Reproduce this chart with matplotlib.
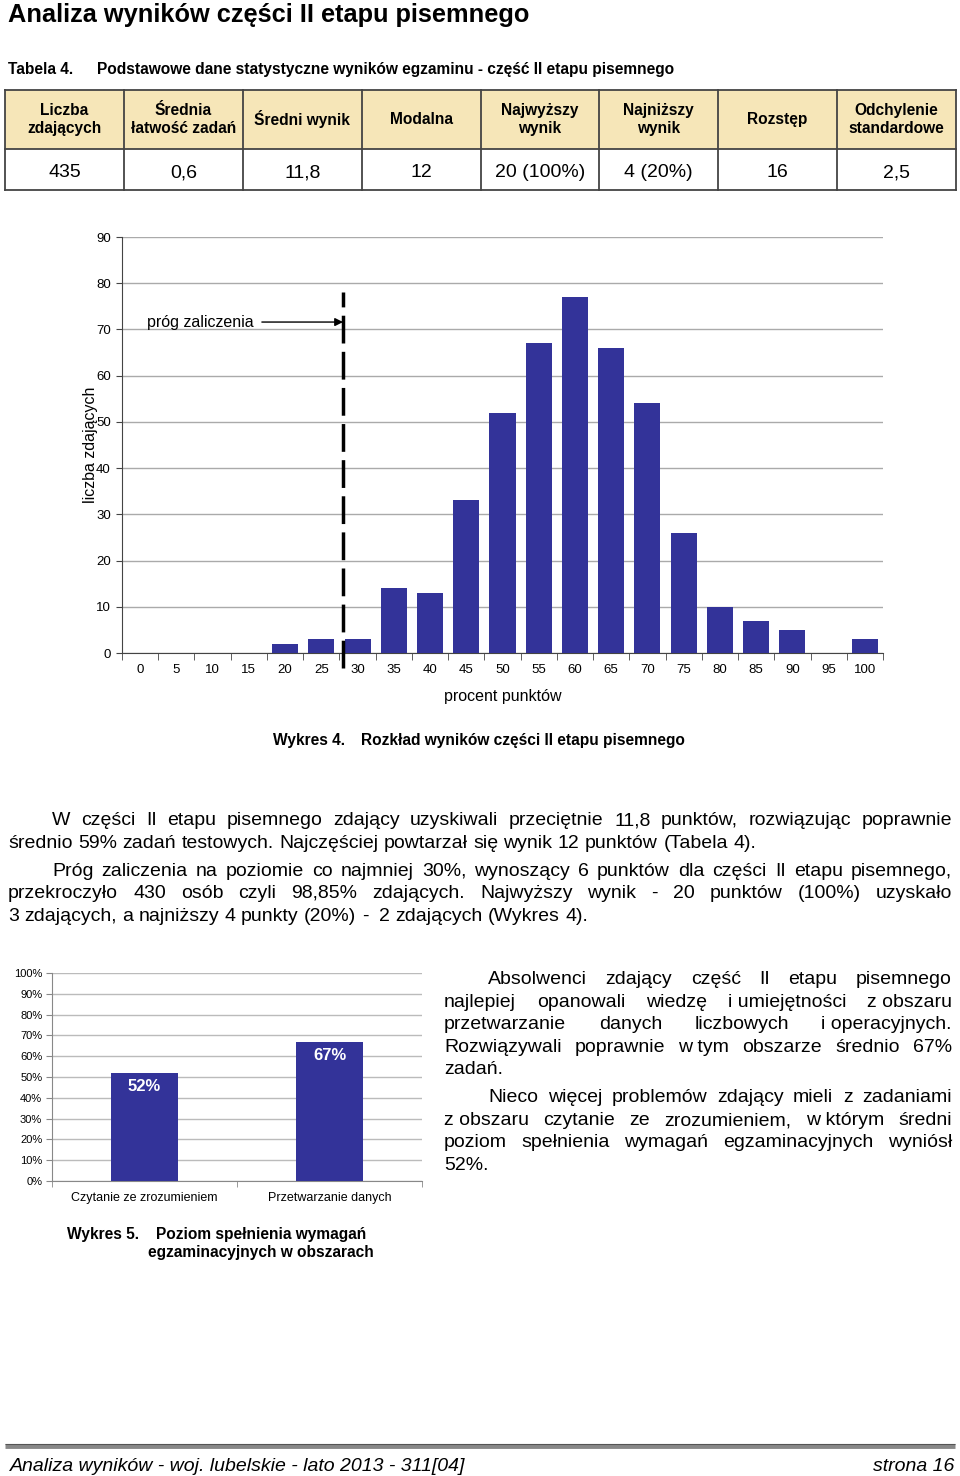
import numpy as np
import matplotlib.pyplot as plt

plt.rcParams['font.family'] = ['Liberation Sans', 'DejaVu Sans']

# dane tabeli 4
tab_naglowki = ['Liczba\nzdających', 'Średnia\nłatwość zadań', 'Średni wynik', 'Modalna',
                'Najwyższy\nwynik', 'Najniższy\nwynik', 'Rozstęp', 'Odchylenie\nstandardowe']
tab_wartosci = ['435', '0,6', '11,8', '12', '20 (100%)', '4 (20%)', '16', '2,5']

# dane wykresu 4
procent = ['0', '5', '10', '15', '20', '25', '30', '35', '40', '45', '50',
           '55', '60', '65', '70', '75', '80', '85', '90', '95', '100']
liczba = [0, 0, 0, 0, 2, 3, 3, 14, 13, 33, 52, 67, 77, 66, 54, 26, 10, 7, 5, 0, 3]
prog = 5.6  # pozycja progu zaliczenia (indeks kategorii)

# dane wykresu 5
obszary = ['Czytanie ze zrozumieniem', 'Przetwarzanie danych']
poziom = [52, 67]

KOLOR = '#333399'
W, H = 960, 1476

fig = plt.figure(figsize=(W / 100, H / 100), dpi=100)
ax0 = fig.add_axes([0, 0, 1, 1])
ax0.set_xlim(0, W)
ax0.set_ylim(H, 0)
ax0.axis('off')


def px_axes(x0, y0, x1, y1):
    return fig.add_axes([x0 / W, 1 - y1 / H, (x1 - x0) / W, (y1 - y0) / H])


renderer = fig.canvas.get_renderer()


def linia(text, x0, x1, y, size=14, justify=True):
    # jedna linia tekstu wyjustowana slowo po slowie
    words = text.split(' ')
    arts = [ax0.text(0, y, w.replace('\u00a0', ' '), fontsize=size, va='baseline', ha='left')
            for w in words]
    widths = [a.get_window_extent(renderer).width for a in arts]
    if justify and len(words) > 1:
        gap = (x1 - x0 - sum(widths)) / (len(words) - 1)
    else:
        gap = size * 100 / 72 * 0.278
    x = x0
    for a, wd in zip(arts, widths):
        a.set_x(x)
        x += wd + gap


# tytul
ax0.text(8, 22, 'Analiza wyników części II etapu pisemnego', fontsize=18.3,
         fontweight='bold', va='baseline')

# tabela 4
ax0.text(8, 74, 'Tabela 4.', fontsize=11.2, fontweight='bold', va='baseline')
ax0.text(97, 74, 'Podstawowe dane statystyczne wyników egzaminu - część II etapu pisemnego',
         fontsize=11.2, fontweight='bold', va='baseline')
kol = np.linspace(5, 956, len(tab_naglowki) + 1)
ax0.add_patch(plt.Rectangle((5, 90), 951, 59, facecolor='#F6E6B8', edgecolor='none'))
for xb in kol:
    ax0.plot([xb, xb], [90, 190], color='#444444', lw=1.3)
for yb in [90, 149, 190]:
    ax0.plot([5, 956], [yb, yb], color='#444444', lw=1.3)
for i, (nag, wart) in enumerate(zip(tab_naglowki, tab_wartosci)):
    xc = (kol[i] + kol[i + 1]) / 2
    ax0.text(xc, 119.5, nag, fontsize=11.2, fontweight='bold', ha='center', va='center',
             linespacing=1.2)
    ax0.text(xc, 177, wart, fontsize=14, ha='center', va='baseline')

# wykres 4
ax1 = px_axes(122, 237, 883, 653)
x = np.arange(len(procent))
ax1.bar(x, liczba, width=0.72, color=KOLOR, zorder=3)
ax1.set_xlim(-0.5, len(procent) - 0.5)
ax1.set_ylim(0, 90)
ax1.set_yticks(range(0, 91, 10))
ax1.set_xticks(x)
ax1.set_xticklabels(procent)
ax1.set_xticks(np.arange(-0.5, len(procent), 1), minor=True)
ax1.tick_params(axis='x', which='major', length=0, labelsize=9.5, pad=8)
ax1.tick_params(axis='x', which='minor', length=5, color='#444444')
ax1.tick_params(axis='y', length=4, labelsize=9.5, pad=4, color='#444444')
ax1.yaxis.grid(True, color='#aaaaaa', lw=1, zorder=0)
for s in ['top', 'right']:
    ax1.spines[s].set_visible(False)
ax1.spines['left'].set_color('#444444')
ax1.spines['bottom'].set_color('#444444')
ax1.set_ylabel('liczba zdających', fontsize=11.5)
ax1.yaxis.set_label_coords(-0.031, 0.5)
ax1.set_xlabel('procent punktów', fontsize=11.5, labelpad=9)
ax1.plot([prog, prog], [-3.3, 78], color='black', lw=2.5, dashes=(8, 2.4),
         clip_on=False, zorder=4)
ax1.annotate('', xy=(prog, 71.6), xytext=(3.36, 71.6),
             arrowprops=dict(arrowstyle='-|>', color='black', lw=1, mutation_scale=12,
                             shrinkA=0, shrinkB=0), zorder=5)
ax1.text(0.2, 71.6, 'próg zaliczenia', fontsize=11.5, va='center', ha='left')

ax0.text(273, 745, 'Wykres 4.', fontsize=11.2, fontweight='bold', va='baseline')
ax0.text(361, 745, 'Rozkład wyników części II etapu pisemnego', fontsize=11.2,
         fontweight='bold', va='baseline')

# tekst
linia('W części II etapu pisemnego zdający uzyskiwali przeciętnie 11,8 punktów, rozwiązując poprawnie',
      52, 952, 825)
linia('średnio 59% zadań testowych. Najczęściej powtarzał się wynik 12 punktów (Tabela 4).',
      8, 952, 848, justify=False)
linia('Próg zaliczenia na poziomie co najmniej 30%, wynoszący 6 punktów dla części II etapu pisemnego,',
      52, 952, 876)
linia('przekroczyło 430 osób czyli 98,85% zdających. Najwyższy wynik - 20 punktów (100%) uzyskało',
      8, 952, 898)
linia('3 zdających, a najniższy 4 punkty (20%) -  2 zdających (Wykres 4).',
      8, 952, 921, justify=False)

prawa = [
    ('Absolwenci zdający część II etapu pisemnego', 488, 984, True),
    ('najlepiej opanowali wiedzę i\u00a0umiejętności z\u00a0obszaru', 444, 1007, True),
    ('przetwarzanie danych liczbowych i\u00a0operacyjnych.', 444, 1029, True),
    ('Rozwiązywali poprawnie w\u00a0tym obszarze średnio 67%', 444, 1052, True),
    ('zadań.', 444, 1074, False),
    ('Nieco więcej problemów zdający mieli z zadaniami', 488, 1102, True),
    ('z\u00a0obszaru czytanie ze zrozumieniem, w\u00a0którym średni', 444, 1125, True),
    ('poziom spełnienia wymagań egzaminacyjnych wyniósł', 444, 1147, True),
    ('52%.', 444, 1170, False),
]
for t, x0, y, j in prawa:
    linia(t, x0, 952, y, justify=j)

# wykres 5
ax2 = px_axes(52, 973, 422, 1181)
x2 = np.arange(len(obszary))
ax2.bar(x2, poziom, width=0.36, color=KOLOR, zorder=3)
for xi, v in zip(x2, poziom):
    ax2.text(xi, v - 3, f'{v}%', color='white', fontsize=12, fontweight='bold',
             ha='center', va='top', zorder=4)
ax2.set_xlim(-0.5, len(obszary) - 0.5)
ax2.set_ylim(0, 100)
ax2.set_yticks(range(0, 101, 10))
ax2.set_yticklabels([f'{v}%' for v in range(0, 101, 10)])
ax2.set_xticks(x2)
ax2.set_xticklabels(obszary)
ax2.set_xticks(np.arange(-0.5, len(obszary), 1), minor=True)
ax2.tick_params(axis='x', which='major', length=0, labelsize=9, pad=8)
ax2.tick_params(axis='x', which='minor', length=4, color='#888888')
ax2.tick_params(axis='y', length=4, labelsize=8, pad=3, color='#888888')
ax2.yaxis.grid(True, color='#bbbbbb', lw=1, zorder=0)
for s in ['top', 'right']:
    ax2.spines[s].set_visible(False)
ax2.spines['left'].set_color('#888888')
ax2.spines['bottom'].set_color('#888888')

ax0.text(67, 1239, 'Wykres 5.', fontsize=11.2, fontweight='bold', va='baseline')
ax0.text(156, 1239, 'Poziom spełnienia wymagań', fontsize=11.2, fontweight='bold',
         va='baseline')
ax0.text(148, 1257, 'egzaminacyjnych w obszarach', fontsize=11.2, fontweight='bold',
         va='baseline')

# stopka
ax0.plot([5, 955], [1446, 1446], color='#888888', lw=3.5, solid_capstyle='butt')
ax0.plot([5, 955], [1444, 1444], color='#555555', lw=0.8, solid_capstyle='butt')
ax0.text(10, 1471, 'Analiza wyników - woj. lubelskie - lato 2013 - 311[04]', fontsize=14,
         style='italic', va='baseline')
ax0.text(954, 1471, 'strona 16', fontsize=14, style='italic', va='baseline', ha='right')

fig.savefig('out.png', dpi=100)
